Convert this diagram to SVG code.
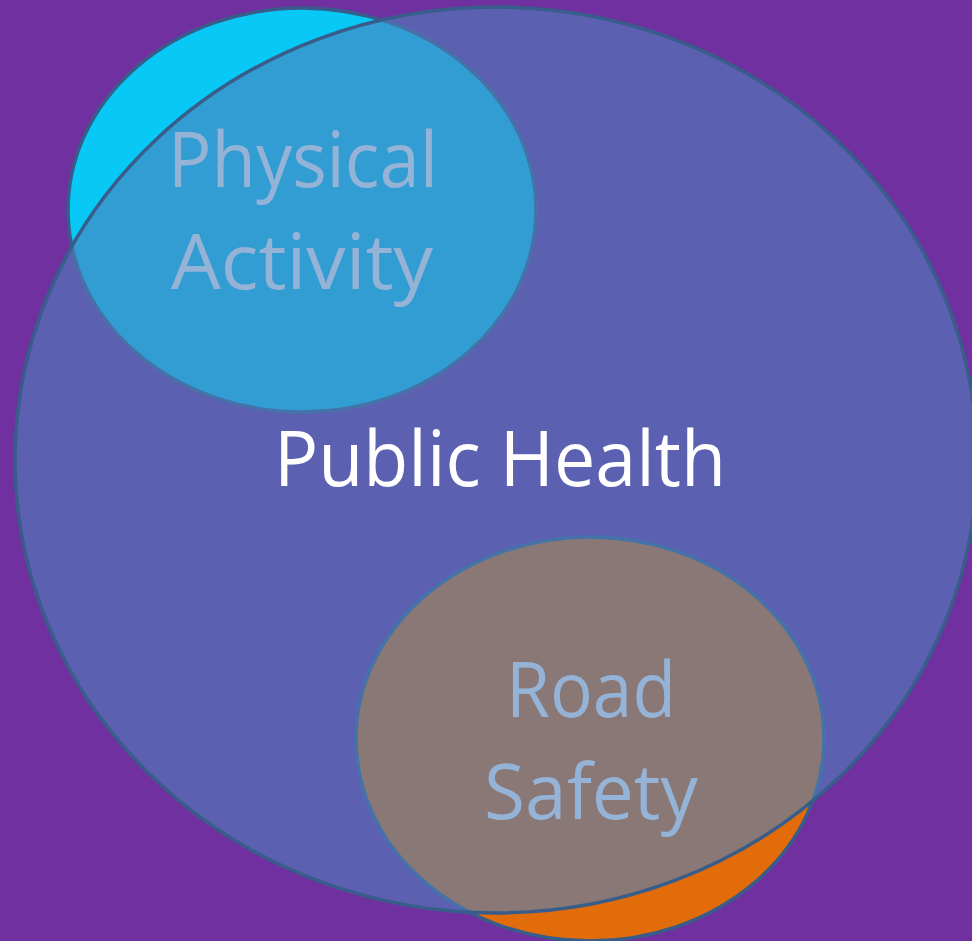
<svg xmlns="http://www.w3.org/2000/svg" width="972" height="941" viewBox="0 0 972 941">
  <style>
    .ring { stroke: #385D8A; stroke-width: 3.5; }
    .label { font-family: "Open Sans", "Noto Sans", "DejaVu Sans", sans-serif; font-size: 76px; text-anchor: middle; }
    .sub { fill: #95B3D7; }
    .main { fill: #FFFFFF; }
  </style>
  <rect width="972" height="941" fill="#7030A0"/>

  <g id="physical-activity">
    <ellipse class="ring" cx="302" cy="210" rx="234" ry="202" fill="#08C8F6"/>
  </g>
  <g id="road-safety">
    <ellipse class="ring" cx="590" cy="739" rx="234" ry="202" fill="#E26B0A"/>
  </g>
  <g id="public-health">
    <ellipse class="ring" cx="496" cy="460" rx="481" ry="453" fill="#4F81BD" fill-opacity="0.6"/>
  </g>

  <g id="labels">
    <text class="label sub" x="303" y="187" textLength="270" lengthAdjust="spacingAndGlyphs">Physical</text>
    <text class="label sub" x="302" y="289" textLength="262" lengthAdjust="spacingAndGlyphs">Activity</text>
    <text class="label main" x="500" y="486" textLength="452" lengthAdjust="spacingAndGlyphs">Public Health</text>
    <text class="label sub" x="591" y="717" textLength="170" lengthAdjust="spacingAndGlyphs">Road</text>
    <text class="label sub" x="591" y="819" textLength="214" lengthAdjust="spacingAndGlyphs">Safety</text>
  </g>
</svg>
